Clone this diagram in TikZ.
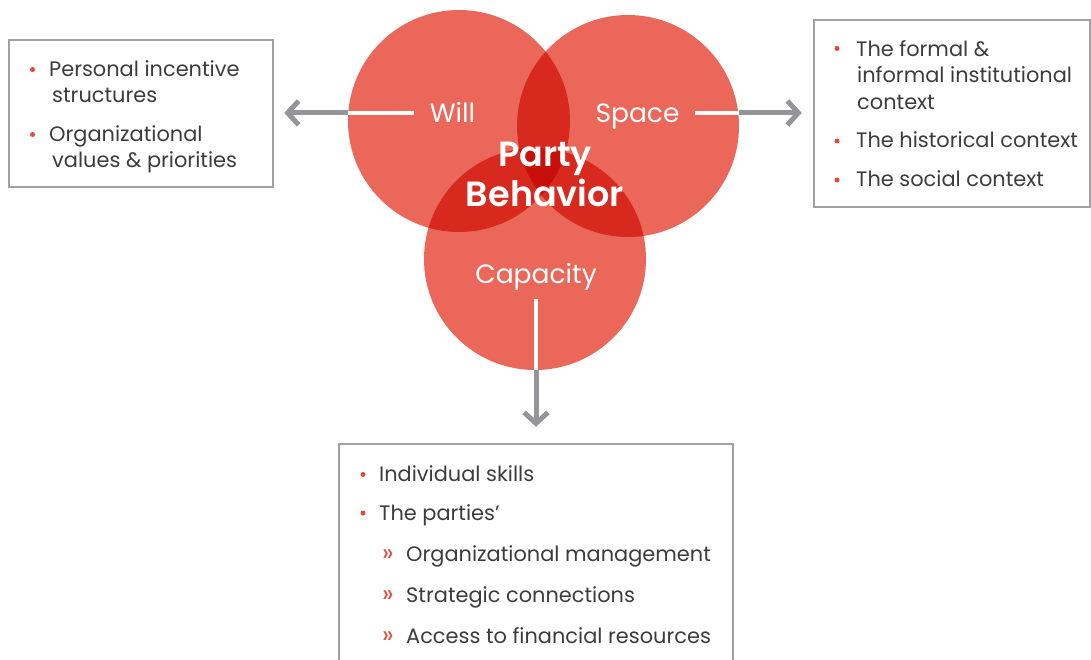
\documentclass[tikz,border=0pt]{standalone}
\usepackage{fontspec}
\setmainfont{Poppins}[BoldFont={Poppins SemiBold}]
\usetikzlibrary{arrows.meta}

\definecolor{circred}{RGB}{235,103,90}
\definecolor{dotred}{RGB}{232,72,58}
\definecolor{arrgray}{RGB}{147,149,152}
\definecolor{boxgray}{RGB}{160,161,164}
\definecolor{txtgray}{RGB}{60,60,62}

\begin{document}
\begin{tikzpicture}[x=1pt, y=-1pt,
			mycircle/.style={circle, fill=circred, minimum size=222pt, inner sep=0},
			mylabel/.style={anchor=base, inner sep=0, text=white, font=\fontsize{26.5}{30}\selectfont},
			mybox/.style={draw=boxgray, line width=2.5pt},
			myarrow/.style={draw=arrgray, line width=5pt, -{Straight Barb[length=11pt, width=24pt, line width=5pt]}},
			whiteline/.style={draw=white, line width=4pt},
			mytext/.style={anchor=base west, inner sep=0, text=txtgray, font=\fontsize{20.9}{24}\selectfont},
			mydot/.style={circle, fill=dotred, inner sep=0, minimum size=5pt},
			mychev/.style={anchor=base west, inner sep=0, text=dotred, font=\fontsize{25}{24}\selectfont}
		]

		\clip (0,0) rectangle (1091,660);

		\begin{scope}[blend group=multiply]
			\node[mycircle] (will) at (459,121) {};
			\node[mycircle] (space) at (628,126) {};
			\node[mycircle] (cap) at (535,259) {};
		\end{scope}

		\node[mylabel] (willlbl) at (452.5,123) {Will};
		\node[mylabel] (spacelbl) at (637.5,123) {Space};
		\node[mylabel] (caplbl) at (536,283) {Capacity};
		\node[inner sep=0, text=white, align=center, font=\bfseries\fontsize{35}{40}\selectfont] (party) at (545,174) {Party\\Behavior};

		\node[mybox, minimum width=264pt, minimum height=147pt] (willbox) at (141,113.5) {};
		\node[mybox, minimum width=276pt, minimum height=187pt] (spacebox) at (952,113.5) {};
		\node[mybox, minimum width=394pt, minimum height=260pt] (capbox) at (536,574) {};

		\draw[whiteline] (will.west |- willlbl.west) -- ([xshift=-16pt]willlbl.west);
		\draw[myarrow, shorten >=10pt] (will.west |- willlbl.west) -- (willbox.east |- willlbl.west);

		\draw[whiteline] ([xshift=15pt]spacelbl.east |- willlbl.west) -- (space.east |- willlbl.west);
		\draw[myarrow, shorten >=11pt] (space.east |- willlbl.west) -- (spacebox.west |- willlbl.west);

		\draw[whiteline] ([yshift=-9pt]caplbl.south) -- (caplbl.south |- cap.south);
		\draw[myarrow, shorten >=16pt] (caplbl.south |- cap.south) -- (capbox.north -| caplbl.south);

		\node[mydot] (wd1) at (32.5,69.5) {};
		\node[mytext] (wt1) at (49,77) {Personal incentive};
		\node[mytext] (wt1b) at (52,103) {structures};
		\node[mydot] (wd2) at (32.5,134.5) {};
		\node[mytext] (wt2) at (49,141.5) {Organizational};
		\node[mytext] (wt2b) at (52,168) {values \& priorities};

		\node[mydot] (sd1) at (837,48.5) {};
		\node[mytext] (st1) at (856,56.7) {The formal \&};
		\node[mytext] (st1b) at (857,83) {informal institutional};
		\node[mytext] (st1c) at (857,110) {context};
		\node[mydot] (sd2) at (837,141) {};
		\node[mytext] (st2) at (856,148) {The historical context};
		\node[mydot] (sd3) at (837,180) {};
		\node[mytext] (st3) at (856,187) {The social context};

		\node[mydot] (cd1) at (363,474.5) {};
		\node[mytext] (ct1) at (379,481.7) {Individual skills};
		\node[mydot] (cd2) at (363,513) {};
		\node[mytext] (ct2) at (379,520) {The parties’};
		\node[mychev] (cc1) at (382,561.7) {»};
		\node[mytext] (cs1) at (406,561.7) {Organizational management};
		\node[mychev] (cc2) at (382,602.7) {»};
		\node[mytext] (cs2) at (406,602.7) {Strategic connections};
		\node[mychev] (cc3) at (382,643.3) {»};
		\node[mytext] (cs3) at (406,643.3) {Access to financial resources};

	\end{tikzpicture}
\end{document}
